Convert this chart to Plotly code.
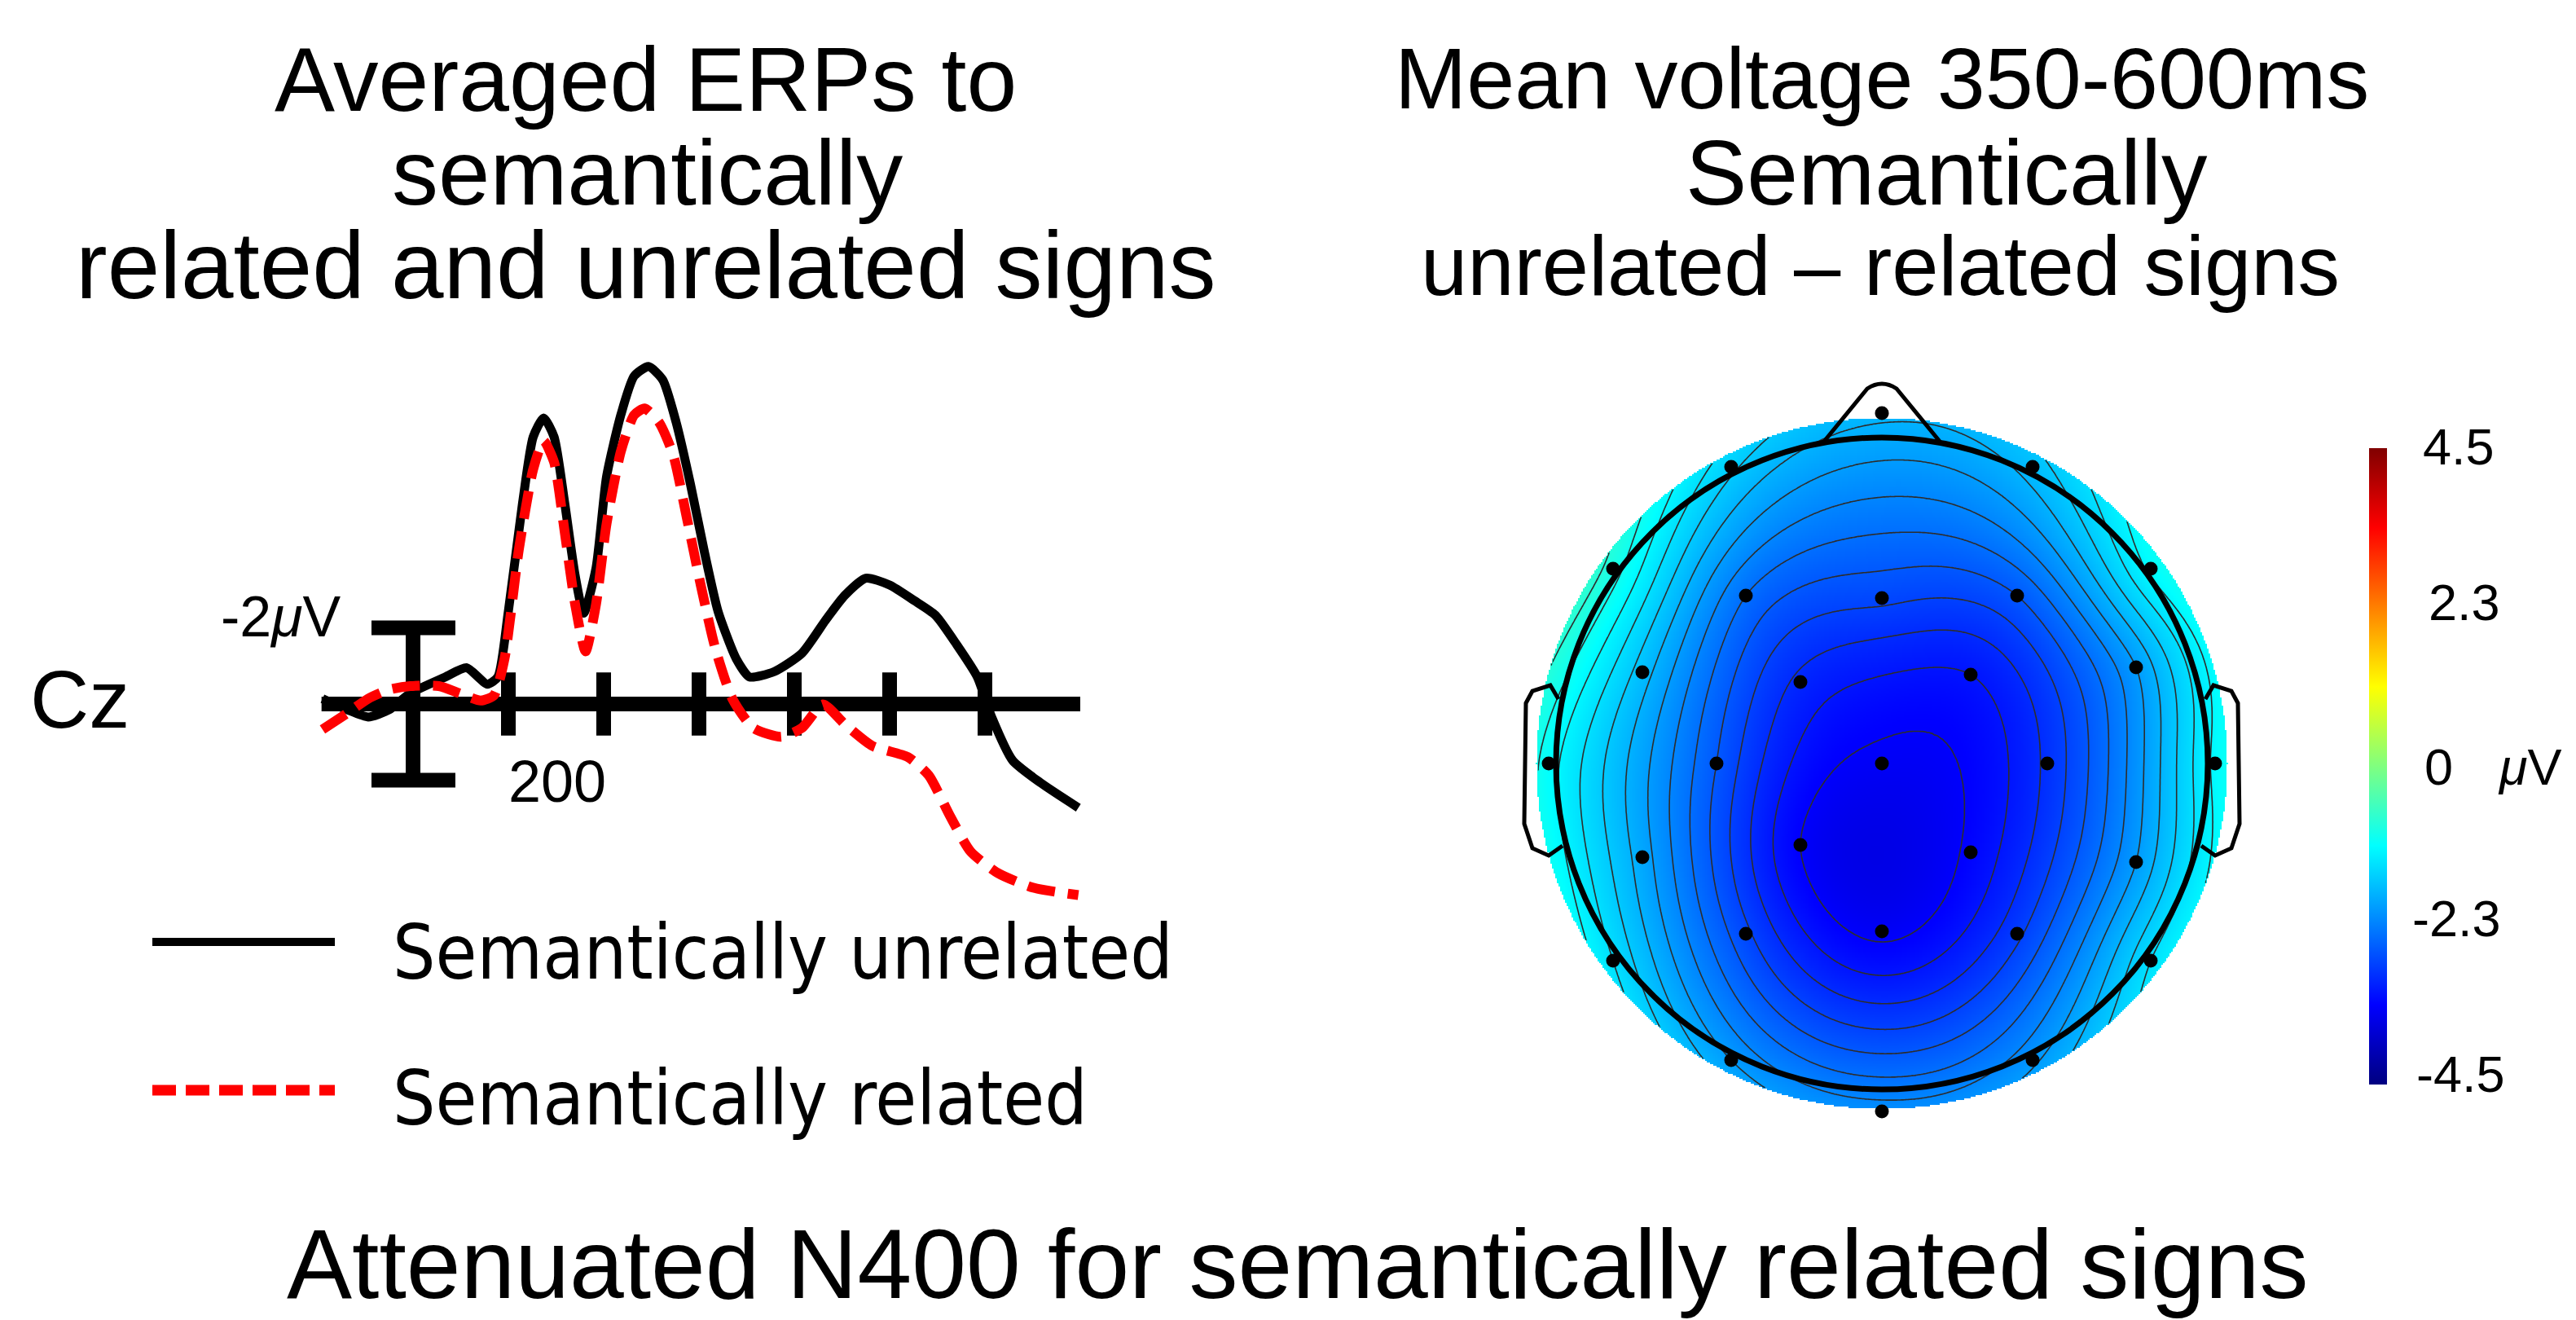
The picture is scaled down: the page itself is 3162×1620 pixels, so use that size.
import numpy as np
import plotly.graph_objects as go

W, H = 3162, 1620
FONT = "Liberation Sans, Arial, sans-serif"

# ---------------- ERP data (Cz) ----------------
TIME_UNREL = [-95, -69, -47, -25, -3, 34, 56, 78, 89, 100, 115, 126, 137, 148, 159, 170, 179, 192,
              203, 218, 232, 247, 262, 276, 291, 306, 320, 339, 353, 379, 408, 434, 453, 475, 500,
              526, 548, 570, 592, 607, 629, 658, 698]
V_UNREL = [-0.14, 0.15, 0.34, 0.15, -0.28, -0.71, -0.95, -0.52, -0.71, -2.43, -5.29, -7.0, -7.5,
           -7.0, -5.29, -3.38, -2.38, -3.57, -5.96, -7.58, -8.6, -8.85, -8.5, -7.39, -5.77, -3.95,
           -2.43, -1.19, -0.71, -0.85, -1.33, -2.24, -2.85, -3.3, -3.12, -2.71, -2.33, -1.57, -0.71,
           0.34, 1.48, 2.06, 2.72]
TIME_REL = [-95, -69, -47, -25, -3, 27, 49, 71, 85, 96, 111, 126, 137, 148, 159, 170, 181, 192, 203,
            218, 232, 243, 258, 273, 287, 302, 317, 335, 357, 386, 408, 430, 453, 482, 519, 541, 563,
            585, 614, 651, 698]
V_REL = [0.67, 0.24, -0.14, -0.38, -0.47, -0.47, -0.28, -0.09, -0.23, -1.19, -4.05, -6.15, -6.9,
         -6.34, -4.53, -2.62, -1.38, -2.62, -4.72, -6.62, -7.58, -7.75, -7.39, -6.53, -4.91, -3.1,
         -1.47, -0.14, 0.63, 0.86, 0.63, 0.01, 0.53, 1.10, 1.39, 1.87, 2.92, 3.87, 4.44, 4.82, 5.01]
TICK_TIMES = [100, 200, 300, 400, 500, 600]
SCALE_BAR_UV = 2.0
BASELINE_SPAN = [-96, 700]

# ---------------- Topography data (350-600 ms, unrelated - related) ----------------
ELEC_NAMES = ["Fpz", "Fp1", "Fp2", "F7", "F8", "F3", "Fz", "F4", "FC5", "FC1", "FC2", "FC6",
              "T7", "C3", "Cz", "C4", "T8", "CP5", "CP1", "CP2", "CP6", "P7", "P3", "Pz", "P4",
              "P8", "O1", "O2", "Oz"]
ELEC_X = [0, -185, 185, -330, 330, -167, 0, 166, -294, -100, 109, 312, -409, -203, 0, 203, 409,
          -294, -100, 109, 312, -330, -167, 0, 166, 330, -185, 185, 0]
ELEC_Y = [430, 364, 364, 239, 239, 206, 203, 206, 112, 100, 109, 118, 0, 0, 0, 0, 0, -115, -100,
          -109, -121, -242, -209, -206, -209, -242, -364, -364, -427]
ELEC_UV = [-1.75, -1.55, -1.7, -0.9, -1.15, -2.4, -2.75, -2.6, -1.7, -3.05, -3.2, -2.0, -1.1,
           -2.6, -3.45, -2.95, -1.15, -1.9, -3.4, -3.35, -2.0, -1.4, -2.75, -3.45, -2.85, -1.4, -2.0,
           -2.05, -2.1]
CBAR_TICKS = [4.5, 2.3, 0, -2.3, -4.5]
CBAR_RANGE = [-4.5, 4.5]


def px(x):
    return x / W


def py(y):
    return 1 - y / H


# biharmonic spline interpolation (as EEGLAB topoplot 'v4')
P = np.column_stack([ELEC_X, ELEC_Y]).astype(float) / 400.0
V = np.array(ELEC_UV, float)


def green(r):
    out = np.zeros_like(r)
    m = r > 0
    out[m] = r[m] ** 2 * (np.log(r[m]) - 1)
    return out


Gm = green(np.linalg.norm(P[:, None, :] - P[None, :, :], axis=2))
wts = np.linalg.solve(Gm, V)
R_DISC = 424
step = 2.0
gx = np.arange(-R_DISC, R_DISC + step, step)
gy = np.arange(-R_DISC, R_DISC + step, step)
XX, YY = np.meshgrid(gx, gy)
Q = np.column_stack([XX.ravel(), YY.ravel()]) / 400.0
ZZ = (green(np.linalg.norm(Q[:, None, :] - P[None, :, :], axis=2)) @ wts).reshape(XX.shape)
mask = np.hypot(XX, YY) > R_DISC
zl = [[None if mask[i, j] else round(float(ZZ[i, j]), 3) for j in range(len(gx))]
      for i in range(len(gy))]

JET = [[0, "rgb(0,0,128)"], [0.125, "rgb(0,0,255)"], [0.375, "rgb(0,255,255)"],
       [0.625, "rgb(255,255,0)"], [0.875, "rgb(255,0,0)"], [1, "rgb(128,0,0)"]]

fig = go.Figure()

fig.add_trace(go.Scatter(x=TIME_UNREL, y=V_UNREL, mode="lines", xaxis="x", yaxis="y",
                         line=dict(color="black", width=11, shape="spline", smoothing=0.6),
                         showlegend=False, hoverinfo="skip"))
fig.add_trace(go.Scatter(x=TIME_REL, y=V_REL, mode="lines", xaxis="x", yaxis="y",
                         line=dict(color="#ff0000", width=12, dash="34px,16px", shape="spline",
                                   smoothing=0.6),
                         showlegend=False, hoverinfo="skip"))

fig.add_trace(go.Heatmap(x=gx, y=gy, z=zl, xaxis="x2", yaxis="y2", colorscale=JET,
                         zmin=CBAR_RANGE[0], zmax=CBAR_RANGE[1], zsmooth=False, hoverinfo="skip",
                         colorbar=dict(x=px(2900), xanchor="left", xpad=0, ypad=0, thickness=22,
                                       thicknessmode="pixels", len=781, lenmode="pixels",
                                       y=py(932.5), yanchor="middle", showticklabels=False,
                                       ticks="", outlinewidth=0)))
fig.add_trace(go.Contour(x=gx, y=gy, z=zl, xaxis="x2", yaxis="y2", showscale=False,
                         contours=dict(start=-3.4, end=-0.2, size=0.2, coloring="lines"),
                         colorscale=[[0, "rgb(45,45,45)"], [1, "rgb(45,45,45)"]],
                         line=dict(width=1.6), hoverinfo="skip"))
fig.add_trace(go.Scatter(x=ELEC_X, y=ELEC_Y, mode="markers", xaxis="x2", yaxis="y2",
                         marker=dict(color="black", size=17), text=ELEC_NAMES,
                         showlegend=False, hoverinfo="text"))

shapes = []
# ERP baseline, ticks, calibration bar
shapes.append(dict(type="line", xref="x", yref="y", x0=BASELINE_SPAN[0], x1=BASELINE_SPAN[1],
                   y0=0, y1=0, line=dict(color="black", width=18), layer="below"))
for t in TICK_TIMES:
    shapes.append(dict(type="line", xref="x", yref="y", x0=t, x1=t, y0=-0.83, y1=0.83,
                       line=dict(color="black", width=18), layer="below"))
shapes.append(dict(type="line", xref="x", yref="y", x0=0, x1=0, y0=-SCALE_BAR_UV, y1=SCALE_BAR_UV,
                   line=dict(color="black", width=18), layer="below"))
for v in (-SCALE_BAR_UV, SCALE_BAR_UV):
    shapes.append(dict(type="line", xref="x", yref="y", x0=-43.6, x1=44.4, y0=v, y1=v,
                       line=dict(color="black", width=18), layer="below"))

# legend samples
shapes.append(dict(type="line", xref="paper", yref="paper", x0=px(179), x1=px(403),
                   y0=py(1148), y1=py(1148), line=dict(color="black", width=10)))
shapes.append(dict(type="line", xref="paper", yref="paper", x0=px(179), x1=px(403),
                   y0=py(1330), y1=py(1330), line=dict(color="#ff0000", width=13,
                                                       dash="29px,12px")))

# head outline
shapes.append(dict(type="circle", xref="x2", yref="y2", x0=-400, x1=400, y0=-400, y1=400,
                   line=dict(color="black", width=7)))
shapes.append(dict(type="path", xref="x2", yref="y2",
                   path="M -72 394 L -18 460 Q 0 472 18 460 L 72 394",
                   line=dict(color="black", width=5)))
shapes.append(dict(type="path", xref="x2", yref="y2",
                   path="M -397 79 L -407 96 L -429 89 L -437 74 L -439 -74 L -429 -104 "
                        "L -409 -113 L -392 -101",
                   line=dict(color="black", width=5)))
shapes.append(dict(type="path", xref="x2", yref="y2",
                   path="M 397 79 L 407 96 L 429 89 L 437 74 L 439 -74 L 429 -104 "
                        "L 409 -113 L 392 -101",
                   line=dict(color="black", width=5)))

# colorbar tick marks
cb_top, cb_bot = 542, 1323
for v in CBAR_TICKS[1:-1]:
    yy = cb_top + (CBAR_RANGE[1] - v) / (CBAR_RANGE[1] - CBAR_RANGE[0]) * (cb_bot - cb_top)
    shapes.append(dict(type="line", xref="paper", yref="paper", x0=px(2900), x1=px(2909),
                       y0=py(yy), y1=py(yy), line=dict(color="rgb(40,40,40)", width=2)))

ann = []


def text(s, x, y, size, xanchor="center", family=FONT):
    ann.append(dict(text=s, x=px(x), y=py(y), xref="paper", yref="paper", showarrow=False,
                    xanchor=xanchor, yanchor="middle", font=dict(size=size, color="black",
                                                                 family=family)))


text("Averaged ERPs to", 784, 90, 111)
text("semantically", 786, 204, 114)
text("related and unrelated signs", 784, 318, 116)
text("Mean voltage 350-600ms", 2302, 88, 106)
text("Semantically", 2381, 204, 113)
text("unrelated – related signs", 2300, 318, 103)
text("Attenuated N400 for semantically related signs", 1584, 1543, 120)
text("Cz", 90, 850, 100)
text("-2<i>μ</i>V", 337, 749, 70)
text("200", 676, 951, 72)
LEG_FONT = "DejaVu Sans Condensed, Liberation Sans, Arial, sans-serif"
text("Semantically unrelated", 472, 1161, 92, xanchor="left", family=LEG_FONT)
text("Semantically related", 472, 1340, 92, xanchor="left", family=LEG_FONT)

cb_lab_y = [540, 731, 932.5, 1119, 1310]
cb_lab_x = [2964, 2971, 2966, 2951, 2956]
for v, yy, xx in zip(CBAR_TICKS, cb_lab_y, cb_lab_x):
    text("%g" % v, xx, yy, 63, xanchor="left")
text("<i>μ</i>V", 3056, 932.5, 63, xanchor="left")

fig.update_layout(
    width=W, height=H, margin=dict(l=0, r=0, t=0, b=0),
    paper_bgcolor="white", plot_bgcolor="white", showlegend=False,
    xaxis=dict(domain=[px(382), px(1329.7)], range=[-100, 710], visible=False, fixedrange=True),
    yaxis=dict(domain=[py(1136.8), py(388)], range=[6, -10], visible=False, fixedrange=True),
    xaxis2=dict(domain=[px(1850), px(2760)], range=[-452, 458], visible=False, anchor="y2"),
    yaxis2=dict(domain=[py(1400), py(440)], range=[-471, 489], visible=False, anchor="x2"),
    shapes=shapes, annotations=ann,
)

fig.write_html("out.html")
